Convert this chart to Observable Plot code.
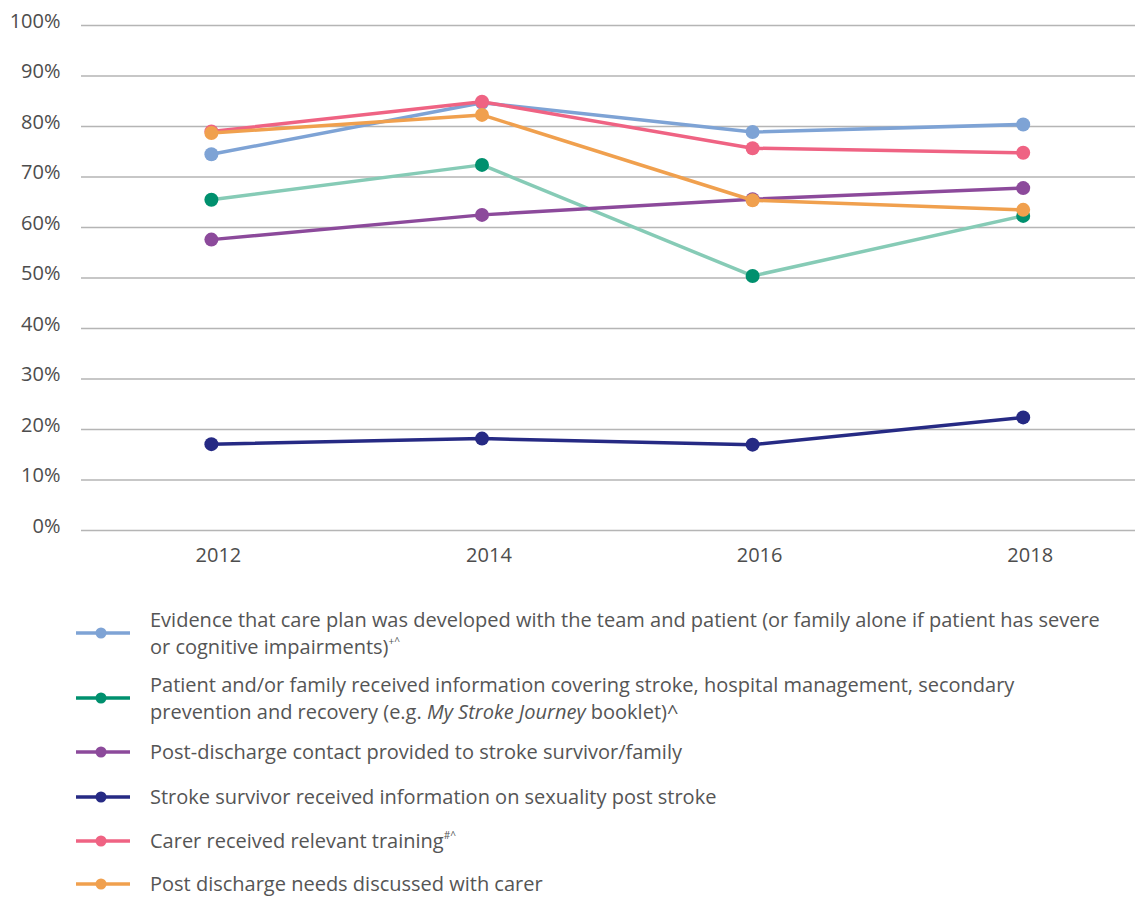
<!DOCTYPE html>
<html>
<head>
<meta charset="utf-8">
<script src="https://cdn.jsdelivr.net/npm/d3@7"></script>
<script src="https://cdn.jsdelivr.net/npm/@observablehq/plot@0.6"></script>
<style>
  html, body { margin: 0; padding: 0; background: #fff; overflow: hidden; }
  body { width: 1135px; font-family: "Open Sans", Lato, sans-serif; color: #555; }
  #legend { padding-top: 26px; }
  .item { display: flex; align-items: center; }
  .item svg { margin-left: 76px; flex: none; }
  .item .txt { margin-left: 20px; font-size: 20px; line-height: 27px; color: #555; white-space: nowrap; }
  .sp { font-size: 10px; line-height: 0; position: relative; top: -9px; }
</style>
</head>
<body>
<div id="chart"></div>
<div id="legend"></div>
<script>
// ---- data ----
const years = [2012, 2014, 2016, 2018];
const carePlan = [74.5, 84.7, 78.9, 80.4];
const infoReceived = [65.5, 72.4, 50.4, 62.3];
const postDischargeContact = [57.6, 62.5, 65.6, 67.8];
const sexualityInfo = [17.1, 18.2, 17.0, 22.4];
const carerTraining = [79.0, 84.9, 75.7, 74.8];
const needsDiscussed = [78.7, 82.3, 65.4, 63.5];
const yTicks = [0, 10, 20, 30, 40, 50, 60, 70, 80, 90, 100];
const seriesNames = [
  "Evidence that care plan was developed with the team and patient (or family alone if patient has severe<br>or cognitive impairments)<span class='sp'>+^</span>",
  "Patient and/or family received information covering stroke, hospital management, secondary<br>prevention and recovery (e.g. <i>My Stroke Journey</i> booklet)^",
  "Post-discharge contact provided to stroke survivor/family",
  "Stroke survivor received information on sexuality post stroke",
  "Carer received relevant training<span class='sp'>#^</span>",
  "Post discharge needs discussed with carer"
];
const seriesValues = [carePlan, infoReceived, postDischargeContact, sexualityInfo, carerTraining, needsDiscussed];

// ---- styles ----
const lineColors = ["#7ea3d5", "#86cbb6", "#8c4a9b", "#262a84", "#ef6383", "#f0a04e"];
const dotColors  = ["#7ea3d5", "#00906e", "#8c4a9b", "#262a84", "#ef6383", "#f0a04e"];
const legendLineColors = ["#7ea3d5", "#00906e", "#8c4a9b", "#262a84", "#ef6383", "#f0a04e"];
const legendGaps = [11, 13, 18, 17, 16, 0];

const marks = [
  Plot.ruleY(yTicks, {stroke: "#b5b5b5", strokeWidth: 1.3})
];
seriesValues.forEach((vals, i) => {
  const rows = years.map((y, j) => ({year: y, value: vals[j]}));
  marks.push(Plot.line(rows, {x: "year", y: "value", stroke: lineColors[i], strokeWidth: 3.5}));
  marks.push(Plot.dot(rows, {x: "year", y: "value", fill: dotColors[i], r: 7}));
});

const chart = Plot.plot({
  width: 1135,
  height: 580,
  marginLeft: 81,
  marginRight: 0,
  marginTop: 25,
  marginBottom: 50,
  style: {fontFamily: "'Open Sans', Lato, sans-serif", fontSize: "20px", color: "#4d4d4d", background: "#fff"},
  x: {domain: [2011.04, 2018.83], label: null},
  y: {domain: [0, 100], label: null},
  marks: [
    ...marks,
    Plot.axisX({ticks: years, tickFormat: "d", tickSize: 0, tickPadding: 17, dx: 7, label: null}),
    Plot.axisY({ticks: yTicks, tickFormat: d => d + "%", tickSize: 0, tickPadding: 21, dy: -4, label: null})
  ]
});
document.getElementById("chart").appendChild(chart);

// ---- legend ----
const legend = document.getElementById("legend");
seriesNames.forEach((name, i) => {
  const item = document.createElement("div");
  item.className = "item";
  item.style.marginBottom = legendGaps[i] + "px";
  item.innerHTML =
    `<svg width="54" height="14"><line x1="0" x2="54" y1="7" y2="7" stroke="${legendLineColors[i]}" stroke-width="3.5"/>` +
    `<circle cx="25" cy="7" r="5.5" fill="${dotColors[i]}"/></svg>` +
    `<div class="txt">${name}</div>`;
  legend.appendChild(item);
});
</script>
</body>
</html>
